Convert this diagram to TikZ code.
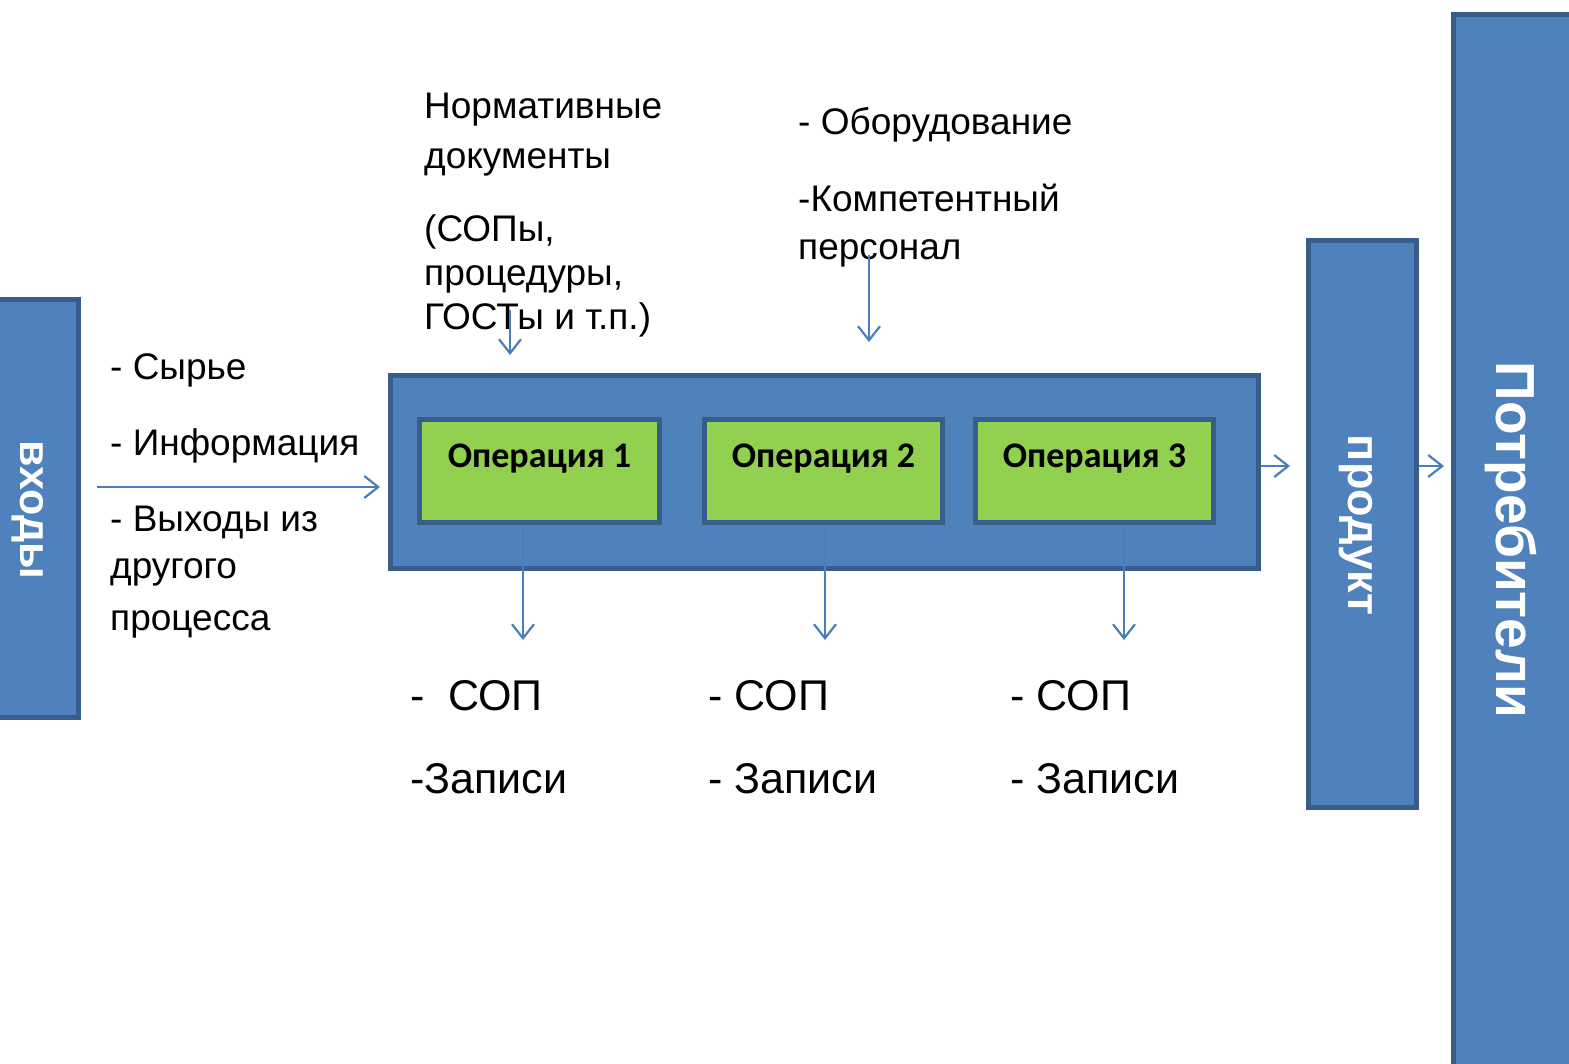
\documentclass[tikz,border=0pt]{standalone}
\usepackage{fontspec}
\setmainfont{Liberation Sans}
\newfontfamily\calib{Carlito}
\usetikzlibrary{arrows.meta}
\definecolor{bfill}{HTML}{4F81BD}
\definecolor{bline}{HTML}{385D8A}
\definecolor{gfill}{HTML}{92D050}
\definecolor{arrc}{HTML}{4A7EBB}
\tikzset{
  bluebox/.style={draw=bline, fill=bfill, line width=5pt, inner sep=0pt},
  greenbox/.style={draw=bline, fill=gfill, line width=5pt, inner sep=0pt},
  rottext/.style={rotate=-90, text=white, font=\bfseries, inner sep=0pt},
  txt/.style={anchor=base west, inner sep=0pt, font=\fontsize{37}{44}\selectfont},
  bigtxt/.style={anchor=base west, inner sep=0pt, font=\fontsize{43}{50}\selectfont},
  optxt/.style={anchor=base, inner sep=0pt, font=\calib\bfseries\fontsize{36}{42}\selectfont},
  arr/.style={draw=arrc, line width=2.2pt, -{Straight Barb[length=14pt,width=22pt,line width=2.2pt]}}
}
\begin{document}
\begin{tikzpicture}[x=1pt,y=-1pt]
\useasboundingbox (0,0) rectangle (1569,1064);
% boxes
\node[bluebox, minimum width=81pt, minimum height=418pt] (vh) at (38,508.5) {};
\node[rottext, font=\bfseries\fontsize{43}{50}\selectfont] (vht) at (28,510) {входы};
\node[bluebox, minimum width=868pt, minimum height=193pt] (big) at (824.5,472) {};
\node[greenbox, minimum width=240pt, minimum height=103pt] (op1) at (539.5,471) {};
\node[greenbox, minimum width=238pt, minimum height=103pt] (op2) at (823.5,471) {};
\node[greenbox, minimum width=238pt, minimum height=103pt] (op3) at (1094.5,471) {};
\node[optxt] (op1t) at (539.5,467) {Операция 1};
\node[optxt] (op2t) at (823.5,467) {Операция 2};
\node[optxt] (op3t) at (1094.5,467) {Операция 3};
\node[bluebox, minimum width=108pt, minimum height=567pt] (prod) at (1362.5,524) {};
\node[rottext, font=\bfseries\fontsize{45}{52}\selectfont] (prodt) at (1356,525) {продукт};
\node[bluebox, minimum width=125pt, minimum height=1060pt] (cons) at (1515.5,545) {};
\node[rottext, font=\bfseries\fontsize{55}{62}\selectfont] (const) at (1511,540) {Потребители};
% input texts
\node[txt] (in1) at (110,380) {- Сырье};
\node[txt] (in2) at (110,455) {- Информация};
\node[txt] (in3) at (110,531) {- Выходы из};
\node[txt] (in4) at (110,578) {другого};
\node[txt] (in5) at (110,630) {процесса};
% normative docs
\node[txt] (nd1) at (424,119) {Нормативные};
\node[txt] (nd2) at (424,169) {документы};
\node[txt] (nd3) at (424,242) {(СОПы,};
\node[txt] (nd4) at (424,286) {процедуры,};
\node[txt] (nd5) at (424,330) {ГОСТы и т.п.)};
% resources
\node[txt] (rs1) at (798,135) {- Оборудование};
\node[txt] (rs2) at (798,212) {-Компетентный};
\node[txt] (rs3) at (798,260) {персонал};
% outputs
\node[bigtxt] (o1a) at (410,710) {-\ \ СОП};
\node[bigtxt] (o1b) at (410,793) {-Записи};
\node[bigtxt] (o2a) at (708,710) {- СОП};
\node[bigtxt] (o2b) at (708,793) {- Записи};
\node[bigtxt] (o3a) at (1010,710) {- СОП};
\node[bigtxt] (o3b) at (1010,793) {- Записи};
% connector ends
\coordinate (cin) at (97,487);
\coordinate (cin2) at (380,487);
\coordinate (cnd) at (510,310);
\coordinate (cnd2) at (510,355);
\coordinate (crs) at (869,255);
\coordinate (crs2) at (869,342);
\coordinate (cp1) at (1290,466);
\coordinate (cc1) at (1444,466);
\coordinate (d1) at (523,640);
\coordinate (d2) at (825,640);
\coordinate (d3) at (1124,640);
% connectors
\draw[arr] (cin) -- (cin2);
\draw[arr] (cnd) -- (cnd2);
\draw[arr] (crs) -- (crs2);
\draw[arr] (big.east |- cp1) -- (cp1);
\draw[arr] (prod.east |- cc1) -- (cc1);
\draw[arr] (op1.south -| d1) -- (d1);
\draw[arr] (op2.south -| d2) -- (d2);
\draw[arr] (op3.south -| d3) -- (d3);
\end{tikzpicture}
\end{document}
